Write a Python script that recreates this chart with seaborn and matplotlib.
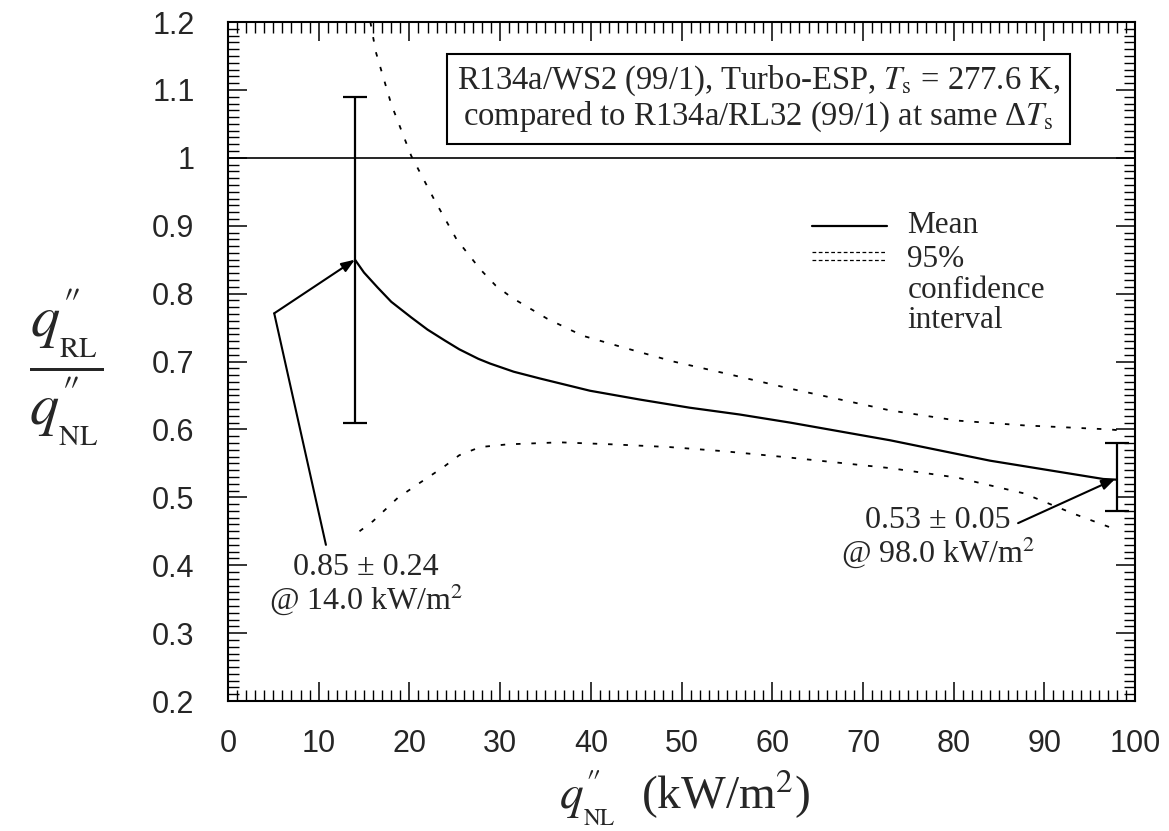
import matplotlib
matplotlib.use("Agg")
import matplotlib.pyplot as plt
import seaborn as sns
import pandas as pd
from matplotlib.ticker import MultipleLocator, FuncFormatter

#---------------------------- data ----------------------------
mean_x = [14.0, 15.0, 16.5, 18.0, 20.2, 22.0, 23.9, 25.5, 27.6, 28.9, 31.5, 34.4, 39.9, 45.4, 50.9, 56.4, 62.0, 73.0, 84.0, 96.5, 98.0]
mean_y = [0.850, 0.831, 0.809, 0.788, 0.765, 0.747, 0.731, 0.718, 0.704, 0.697, 0.685, 0.675, 0.657, 0.644, 0.632, 0.622, 0.610, 0.584, 0.554, 0.527, 0.526]

upper_x = [15.7, 16.3, 18.0, 20.2, 22.8, 25.2, 27.8, 29.5, 31.3, 35.2, 39.1, 43.5, 49.1, 55.0, 62.0, 73.0, 80.4, 87.7, 97.2, 98.0]
upper_y = [1.200, 1.156, 1.079, 1.003, 0.937, 0.880, 0.836, 0.812, 0.794, 0.763, 0.738, 0.721, 0.700, 0.682, 0.660, 0.628, 0.613, 0.606, 0.600, 0.599]

lower_x = [14.5, 16.0, 18.7, 21.0, 23.7, 25.5, 27.8, 30.8, 36.6, 42.4, 48.7, 54.6, 61.6, 73.0, 80.4, 87.7, 93.2, 97.2, 98.0]
lower_y = [0.450, 0.465, 0.499, 0.520, 0.544, 0.562, 0.574, 0.578, 0.581, 0.578, 0.574, 0.568, 0.559, 0.543, 0.529, 0.506, 0.476, 0.456, 0.452]

# end points with their uncertainty
err_x = [14.0, 98.0]
err_y = [0.85, 0.53]
err_size = [0.24, 0.05]

x_ticks = [0, 10, 20, 30, 40, 50, 60, 70, 80, 90, 100]
y_ticks = [0.2, 0.3, 0.4, 0.5, 0.6, 0.7, 0.8, 0.9, 1.0, 1.1, 1.2]

#---------------------------- style ----------------------------
sns.set_style("ticks")
plt.rcParams["font.family"] = ["Liberation Serif", "DejaVu Serif"]
plt.rcParams["mathtext.fontset"] = "stix"

fig = plt.figure(figsize=(11.69, 8.31), dpi=100)
ax = fig.add_axes([0.195, 0.1564, 0.776, 0.8171])

dotted = (0, (2.5, 6))
mean_df = pd.DataFrame({"q": mean_x, "ratio": mean_y})
upper_df = pd.DataFrame({"q": upper_x, "ratio": upper_y})
lower_df = pd.DataFrame({"q": lower_x, "ratio": lower_y})

sns.lineplot(data=mean_df, x="q", y="ratio", ax=ax, color="black", lw=1.6,
             estimator=None, sort=False)
sns.lineplot(data=upper_df, x="q", y="ratio", ax=ax, color="black", lw=1.3,
             linestyle=dotted, estimator=None, sort=False)
sns.lineplot(data=lower_df, x="q", y="ratio", ax=ax, color="black", lw=1.3,
             linestyle=dotted, estimator=None, sort=False)

ax.axhline(1.0, color="black", lw=1.2)
ax.errorbar(err_x, err_y, yerr=err_size, fmt="none", ecolor="black",
            elinewidth=1.6, capsize=8.5, capthick=1.6)

# annotations
arrow = dict(arrowstyle="-|>,head_length=0.8,head_width=0.3", color="black",
             lw=1.5, shrinkA=0, shrinkB=0)
ax.plot([10.8, 5.1], [0.43, 0.771], color="black", lw=1.5)
ax.annotate("", xy=(err_x[0], err_y[0]), xytext=(5.1, 0.771),
            arrowprops=arrow, annotation_clip=False)
ax.text(15.2, 0.37, "0.85 ± 0.24\n@ 14.0 kW/m$^2$", ha="center", va="center",
        fontsize=23, linespacing=1.0)
ax.annotate("", xy=(97.8, 0.527), xytext=(87.1, 0.462), arrowprops=arrow)
ax.text(78.3, 0.44, "0.53 ± 0.05\n@ 98.0 kW/m$^2$", ha="center", va="center",
        fontsize=23, linespacing=1.0)

ax.text(58.5, 1.087,
        "R134a/WS2 (99/1), Turbo-ESP, $T_\\mathrm{s}$ = 277.6 K,\n"
        "compared to R134a/RL32 (99/1) at same Δ$T_\\mathrm{s}$",
        ha="center", va="center", fontsize=23.5, linespacing=1.05,
        bbox=dict(boxstyle="square,pad=0.3", fc="white", ec="black", lw=1.5))

# hand made legend
ax.plot([64.4, 72.7], [0.899, 0.899], color="black", lw=1.6)
ax.plot([64.4, 72.7], [0.862, 0.862], color="black", lw=0.9, linestyle=(0, (3, 2)))
ax.plot([64.4, 72.7], [0.850, 0.850], color="black", lw=0.9, linestyle=(0, (3, 2)))
ax.text(74.9, 0.901, "Mean", ha="left", va="center", fontsize=22.5)
ax.text(74.9, 0.805, "95%\nconfidence\ninterval", ha="left", va="center",
        fontsize=22.5, linespacing=1.08)

#---------------------------- axes ----------------------------
ax.set_xlim(0, 100)
ax.set_ylim(0.2, 1.2)
ax.set_xticks(x_ticks)
ax.set_yticks(y_ticks)
ax.xaxis.set_minor_locator(MultipleLocator(1))
ax.yaxis.set_minor_locator(MultipleLocator(0.01))
ax.yaxis.set_major_formatter(FuncFormatter(lambda v, p: "%g" % round(v, 2)))
ax.tick_params(which="both", direction="in", top=True, right=True, color="black")
ax.tick_params(which="major", length=14, width=1.1)
ax.tick_params(which="minor", length=8, width=1.0)
ax.tick_params(axis="x", pad=20)
ax.tick_params(axis="y", pad=24)
for lab in ax.get_xticklabels() + ax.get_yticklabels():
    lab.set_fontfamily("Liberation Sans")
    lab.set_fontsize(22)
for sp in ax.spines.values():
    sp.set_linewidth(1.5)
    sp.set_color("black")
ax.set_xlabel("")
ax.set_ylabel("")

fig.text(0.586, 0.04, r"$q^{\prime\!\prime}_{{}_{\mathrm{NL}}}$  (kW/m$^{2}$)", ha="center",
         va="center", fontsize=34)
fig.text(0.057, 0.558,
         r"$\dfrac{q^{\prime\!\prime}_{{}_{\mathrm{RL}}}}{q^{\prime\!\prime}_{{}_{\mathrm{NL}}}}$",
         ha="center", va="center", fontsize=42)

fig.savefig("out.png", dpi=100)
